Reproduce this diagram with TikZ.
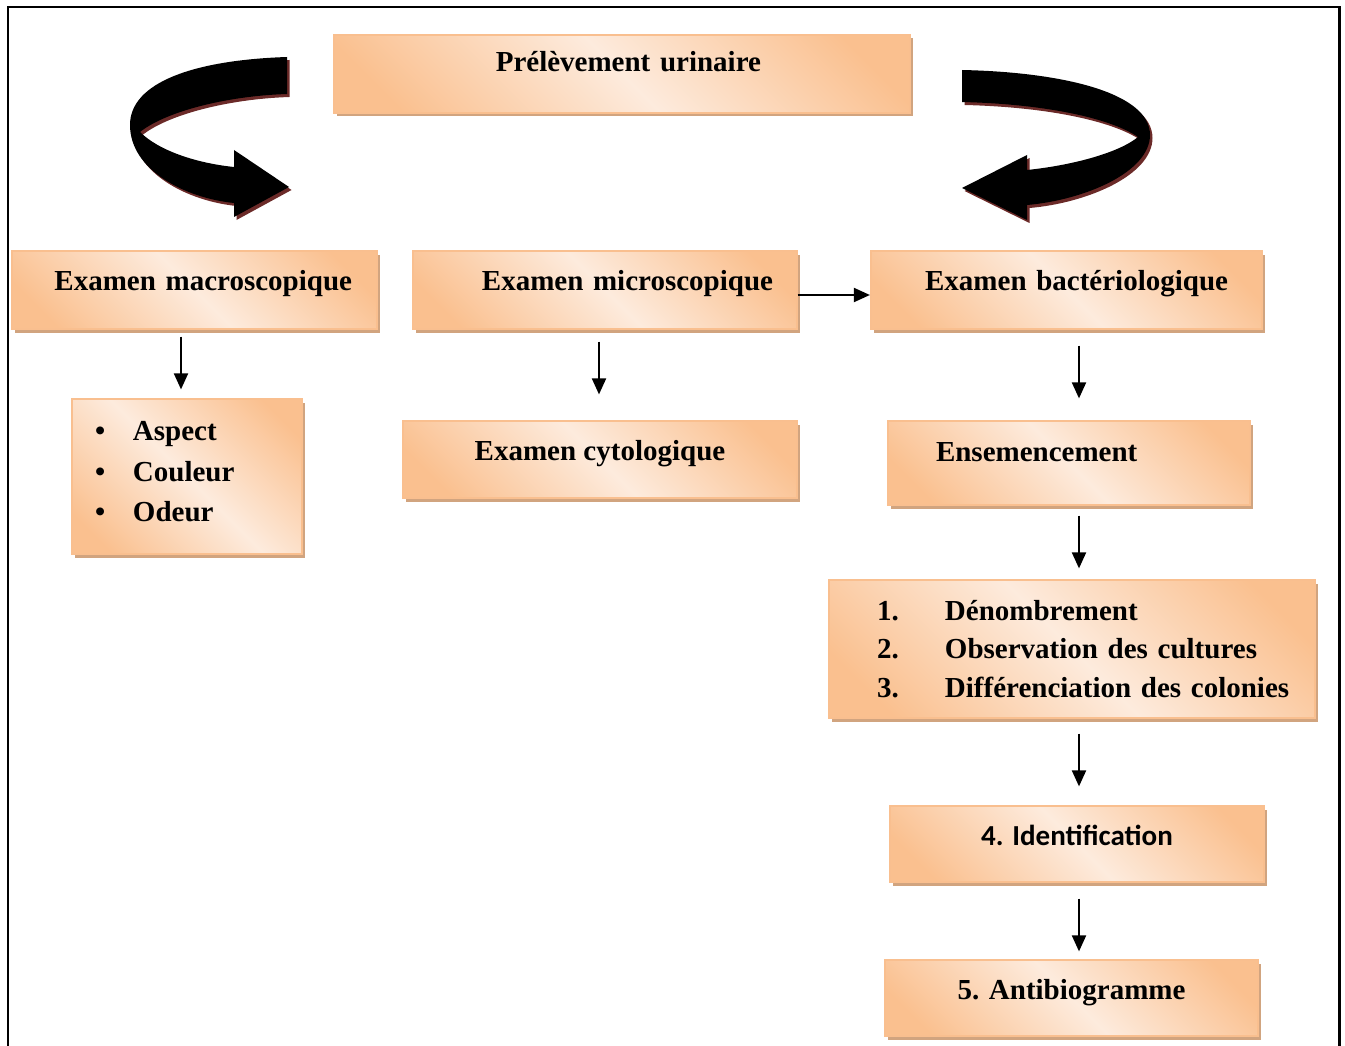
\documentclass[tikz,border=0pt]{standalone}
\usepackage{fontspec}
\setmainfont{Liberation Serif}
\newfontfamily\calibrifont{Carlito}
\usepackage{xcolor}
\usetikzlibrary{arrows.meta,shadows,calc}

\definecolor{boxdark}{HTML}{FAC08F}
\definecolor{boxlight}{HTML}{FDEBDD}
\definecolor{boxborder}{HTML}{F9BF8F}
\definecolor{boxshadow}{HTML}{D1A47F}
\definecolor{arrowshadow}{HTML}{6B2A28}

\pgfdeclarehorizontalshading{peach}{100bp}{color(0bp)=(boxdark); color(22bp)=(boxdark); color(50bp)=(boxlight); color(78bp)=(boxdark); color(100bp)=(boxdark)}

\begin{document}
\begin{tikzpicture}[x=1pt, y=-1pt,
  box/.style={rectangle, draw=boxborder, line width=1.2pt, shade, shading=peach, shading angle=45,
    drop shadow={shadow xshift=3pt, shadow yshift=-3.5pt, fill=boxshadow, opacity=1},
    inner sep=0pt, text=black, font=\bfseries\fontsize{29}{35}\selectfont},
  line/.style={draw, line width=2pt, -{Triangle[length=16pt, width=14pt]}},
  bent/.style={fill=black, drop shadow={shadow xshift=2.5pt, shadow yshift=-3pt, fill=arrowshadow, opacity=1}}]

  \useasboundingbox (0,0) rectangle (1345,1046);
  \begin{scope}
    \clip (0,0) rectangle (1345,1046);
    \draw [line width=2.3pt] (7.7,7) rectangle (1339.5,1080);
  \end{scope}

  % top
  \node [box, minimum width=576pt, text height=37pt, text depth=41pt, text width=278pt, align=right, inner xsep=149pt] (prel) at (622,74) {Prélèvement urinaire};

  % three examinations
  \node [box, minimum width=365pt, text height=39pt, text depth=39pt, text width=315pt, align=right, inner xsep=25pt] (macro) at (194.5,290) {Examen macroscopique};
  \node [box, minimum width=384pt, text height=39pt, text depth=39pt, text width=336pt, align=right, inner xsep=24pt] (micro) at (605,290) {Examen microscopique};
  \node [box, minimum width=391pt, text height=39pt, text depth=39pt, text width=323pt, align=right, inner xsep=34pt] (bact) at (1066.5,290) {Examen bactériologique};

  \node [box, minimum width=230pt, minimum height=155pt, text width=184pt, inner xsep=23pt, align=left,
    font=\bfseries\fontsize{29}{40.5}\selectfont] (crit) at (187,476.5)
    {\makebox[38pt][l]{\textbullet}Aspect\\ \makebox[38pt][l]{\textbullet}Couleur\\ \makebox[38pt][l]{\textbullet}Odeur\rule[-10pt]{0pt}{0pt}};
  \node [box, minimum width=394pt, text height=39pt, text depth=38pt] (cyto) at (600,459.5) {Examen cytologique};

  % bacteriology chain
  \node [box, minimum width=362pt, text height=40pt, text depth=44pt, text width=266pt, align=left, inner xsep=48pt] (ens) at (1069,463) {Ensemencement};
  \node [box, minimum width=486pt, minimum height=138pt, text width=390pt, inner xsep=48pt, align=left,
    font=\bfseries\fontsize{29}{38.5}\selectfont] (cult) at (1072,649)
    {\makebox[68pt][l]{1.}Dénombrement\\ \makebox[68pt][l]{2.}Observation des cultures\\ \mbox{\makebox[68pt][l]{3.}Différenciation des colonies}};
  \node [box, minimum width=374pt, text height=39pt, text depth=37pt, font=\calibrifont\bfseries\fontsize{29}{35}\selectfont] (ident) at (1077,844) {4. Identification};
  \node [box, minimum width=373pt, text height=39pt, text depth=37pt] (anti) at (1071.5,998) {5. Antibiogramme};

  % curved block arrows
  \path [bent] (287,57) .. controls (195,60) and (130,82) .. (130,125) .. controls (130,170) and (185,198) .. (234,203)
    -- (234,217) -- (289,187) -- (234,150) -- (234,167) .. controls (195,163) and (158,150) .. (140,132)
    .. controls (165,112) and (225,96) .. (287,94) -- cycle;
  \path [bent] (962,70) .. controls (1060,72) and (1150,92) .. (1150,135) .. controls (1150,172) and (1085,200) .. (1027,205)
    -- (1027,220) -- (962,188) -- (1027,155) -- (1027,170) .. controls (1075,165) and (1120,152) .. (1138,137)
    .. controls (1110,118) and (1045,104) .. (962,102) -- cycle;

  % connectors
  \draw [line] ($(macro.south)+(-13.5,7)$) -- ($(crit.north)+(-6,-9)$);
  \draw [line] ($(micro.south)+(-6,12)$) -- ($(cyto.north)+(-1,-26)$);
  \draw [line] ($(micro.east)+(0,5)$) -- ($(bact.west)+(-0.5,5)$);
  \draw [line] ($(bact.south)+(12.5,16)$) -- ($(ens.north)+(10,-22)$);
  \draw [line] ($(ens.south)+(10,10)$) -- ($(cult.north)+(7,-11)$);
  \draw [line] ($(cult.south)+(7,15)$) -- ($(ident.north)+(2,-19)$);
  \draw [line] ($(ident.south)+(2,16)$) -- ($(anti.north)+(7.5,-8)$);
\end{tikzpicture}
\end{document}
